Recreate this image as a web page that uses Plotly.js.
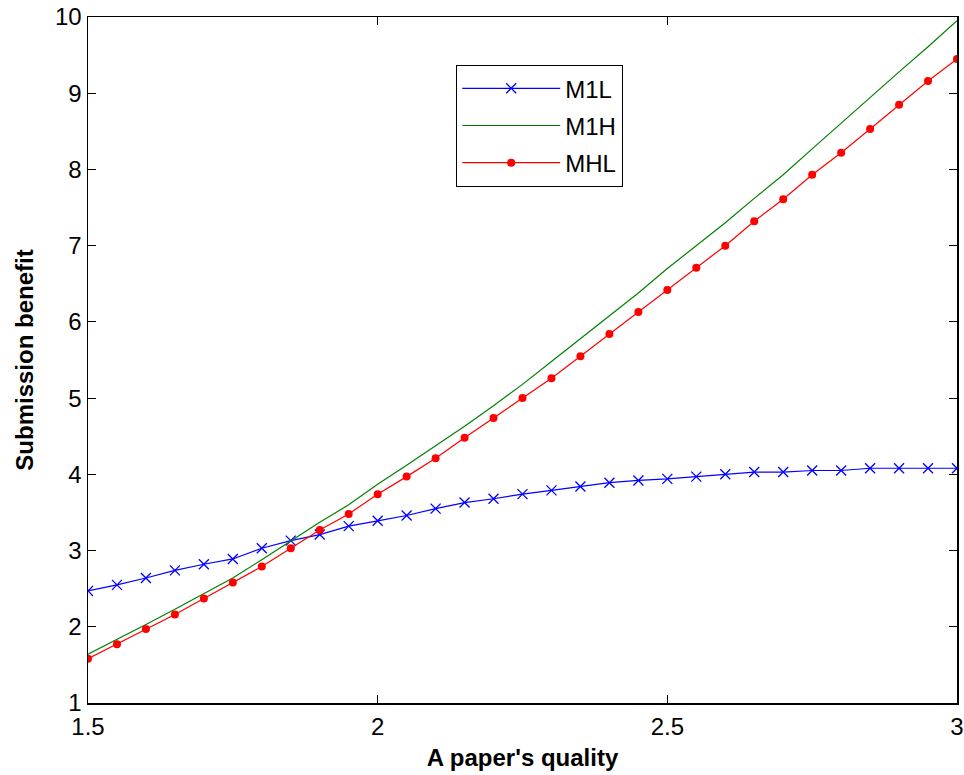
<!DOCTYPE html>
<html>
<head>
<meta charset="utf-8">
<script src="https://cdn.plot.ly/plotly-3.0.1.min.js"></script>
<style>html,body{margin:0;padding:0;background:#fff;}#chart{width:964px;height:775px;}</style>
</head>
<body>
<div id="chart"></div>
<script>
const quality = [1.5,1.55,1.6,1.65,1.7,1.75,1.8,1.85,1.9,1.95,2.0,2.05,2.1,2.15,2.2,2.25,2.3,2.35,2.4,2.45,2.5,2.55,2.6,2.65,2.7,2.75,2.8,2.85,2.9,2.95,3.0];
const m1l = [2.47,2.55,2.64,2.74,2.82,2.89,3.03,3.13,3.21,3.32,3.39,3.46,3.55,3.63,3.68,3.74,3.79,3.84,3.89,3.92,3.94,3.97,4.0,4.03,4.03,4.05,4.05,4.08,4.08,4.08,4.08];
const m1h = [1.64,1.83,2.03,2.23,2.43,2.64,2.88,3.13,3.37,3.60,3.87,4.12,4.37,4.63,4.90,5.18,5.48,5.78,6.07,6.38,6.70,7.0,7.30,7.62,7.93,8.27,8.61,8.95,9.28,9.61,9.95];
const mhl = [1.58,1.77,1.97,2.16,2.37,2.58,2.79,3.03,3.27,3.48,3.74,3.97,4.21,4.48,4.74,5.0,5.26,5.55,5.84,6.13,6.42,6.71,7.0,7.32,7.61,7.93,8.22,8.53,8.85,9.16,9.45];
const names = ["M1L","M1H","MHL"];
const xTicks = [1.5, 2, 2.5, 3];
const xTickText = ["1.5","2","2.5","3"];

const FONT = "Liberation Sans, Arial, sans-serif";

const traces = [
  {x: quality, y: m1l, name: names[0], legendgroup: "a", type: "scatter", mode: "lines+markers",
   line: {color: "#0000ff", width: 1.2},
   marker: {symbol: "x-thin-open", size: 10, line: {color: "#0000ff", width: 1.3}}},
  {x: quality, y: m1h, name: names[1], legendgroup: "b", type: "scatter", mode: "lines",
   line: {color: "#008000", width: 1.2}},
  {x: quality, y: mhl, name: names[2], legendgroup: "c", type: "scatter", mode: "lines+markers",
   line: {color: "#ff0000", width: 1.2},
   marker: {symbol: "circle", size: 8, color: "#ff0000"}}
];

const axisCommon = {
  showgrid: false, zeroline: false, showline: true, linecolor: "#000", linewidth: 1.5,
  mirror: "allticks", ticks: "inside", ticklen: 8, tickcolor: "#000", tickwidth: 1,
  tickfont: {family: FONT, size: 24, color: "#000"}
};

const layout = {
  width: 964, height: 775,
  margin: {l: 88, r: 7, t: 17, b: 72},
  paper_bgcolor: "#fff", plot_bgcolor: "#fff",
  showlegend: true,
  font: {family: FONT, color: "#000"},
  xaxis: Object.assign({}, axisCommon, {
    range: [1.5, 3], tickvals: xTicks, ticktext: xTickText, ticklabelstandoff: 2,
    title: {text: "<b>A paper's quality</b>", font: {family: FONT, size: 24, color: "#000"}, standoff: 10}
  }),
  yaxis: Object.assign({}, axisCommon, {
    range: [1, 10], dtick: 1,
    title: {text: "<b>Submission benefit</b>", font: {family: FONT, size: 24, color: "#000"}, standoff: 14}
  }),
  legend: {
    x: 0.4235, y: 0.93, xanchor: "left", yanchor: "top",
    bordercolor: "#000", borderwidth: 1.2, bgcolor: "#fff",
    font: {family: FONT, size: 24, color: "#000"}, tracegroupgap: 3,
    itemwidth: 98
  }
};

Plotly.newPlot("chart", traces, layout, {displayModeBar: false, staticPlot: true});
</script>
</body>
</html>
